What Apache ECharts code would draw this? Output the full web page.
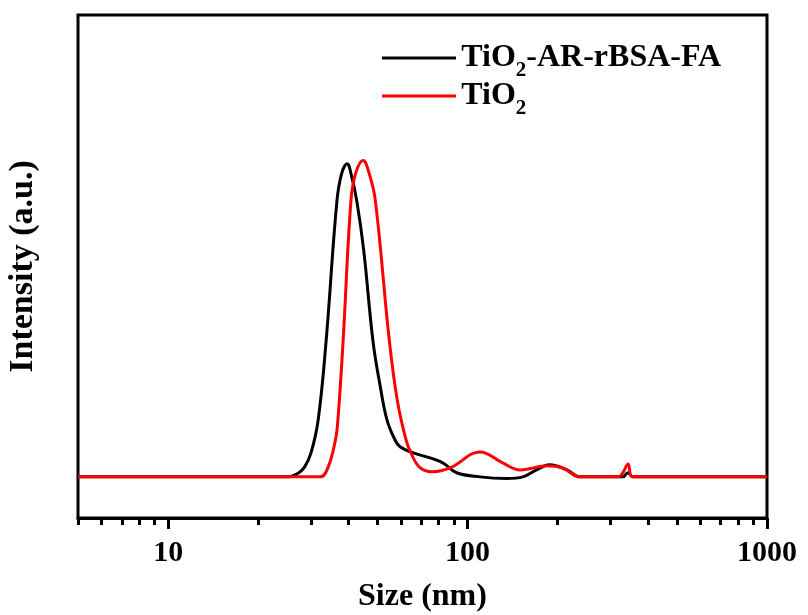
<!DOCTYPE html>
<html>
<head>
<meta charset="utf-8">
<script src="https://cdn.jsdelivr.net/npm/echarts@6/dist/echarts.min.js"></script>
<style>
  html, body { margin: 0; padding: 0; background: #fff; }
  #chart { width: 808px; height: 615px; }
</style>
</head>
<body>
<div id="chart"></div>
<script>
// DLS size distribution (size in nm, intensity normalised to red peak)
let sizeBlack = [5, 20, 25, 27, 28.5, 30, 31.7, 33.7, 36.6, 38, 39.6, 41, 42.7, 45, 48.3, 51, 53.8, 57, 59.5, 65.8, 75, 82.8, 92, 110, 135, 153, 170, 188, 215, 237, 330, 343, 357, 1000];
let valBlack = [0, 0, 0, 0.01, 0.03, 0.076, 0.18, 0.43, 0.87, 0.96, 0.99, 0.95, 0.87, 0.716, 0.43, 0.29, 0.18, 0.12, 0.095, 0.076, 0.06, 0.044, 0.013, 0, -0.005, 0, 0.022, 0.038, 0.022, 0, 0, 0.013, 0, 0];

let sizeRed = [5, 25, 32.2, 34.2, 36.2, 36.9, 38.4, 40.8, 42.3, 44.8, 46.9, 49.2, 54.8, 58.3, 62.3, 64.7, 69.2, 76.3, 88, 110, 131, 150, 184, 208, 237, 318, 330, 343.6, 357, 1000];
let valRed = [0, 0, 0, 0.03, 0.117, 0.18, 0.43, 0.874, 0.96, 1.0, 0.96, 0.874, 0.43, 0.24, 0.117, 0.076, 0.03, 0.016, 0.03, 0.079, 0.044, 0.022, 0.035, 0.028, 0, 0, 0.013, 0.041, 0, 0];

let majorTicks = [10, 100, 1000];
let minorTicks = [5, 6, 7, 8, 9, 20, 30, 40, 50, 60, 70, 80, 90, 200, 300, 400, 500, 600, 700, 800, 900];

let seriesNames = ["TiO2-AR-rBSA-FA", "TiO2"];

let font = "'Liberation Serif', 'Times New Roman', serif";

function pairs(xs, ys) {
  let out = [];
  for (let i = 0; i < xs.length; i++) out.push([xs[i], ys[i]]);
  return out;
}

let myChart = echarts.init(document.getElementById("chart"));
let option = {
  animation: false,
  textStyle: { fontFamily: font },
  grid: {
    left: 78,
    right: 41,
    top: 15,
    bottom: 97,
    outerBoundsMode: "none",
    show: true,
    borderColor: "#000",
    borderWidth: 3
  },
  legend: {
    orient: "vertical",
    left: 377,
    top: 37,
    itemWidth: 74,
    itemHeight: 3,
    itemGap: -1,
    icon: "rect",
    data: seriesNames,
    formatter: function(name) {
      let rest = name.slice(4);
      // h token only sets the line height, s is the subscript
      return "{h| }{b|TiO}{s|2}" + (rest ? "{b|" + rest + "}" : "");
    },
    textStyle: {
      rich: {
        h: { fontSize: 1, lineHeight: 46 },
        b: {
          fontFamily: font,
          fontWeight: "bold",
          fontSize: 32,
          lineHeight: 38,
          verticalAlign: "middle",
          color: "#000"
        },
        s: {
          fontFamily: font,
          fontWeight: "bold",
          fontSize: 21,
          lineHeight: 20,
          verticalAlign: "bottom",
          color: "#000"
        }
      }
    }
  },
  xAxis: [
    {
      type: "log",
      logBase: 10,
      min: 5,
      max: 1000,
      name: "Size (nm)",
      nameLocation: "middle",
      nameGap: 63,
      nameTextStyle: { fontFamily: font, fontWeight: "bold", fontSize: 32, color: "#000" },
      axisLine: { show: true, onZero: false, lineStyle: { color: "#000", width: 3 } },
      axisTick: { show: true, length: 11, lineStyle: { color: "#000", width: 3 }, customValues: majorTicks },
      axisLabel: {
        margin: 20,
        customValues: majorTicks,
        formatter: function(v) {
          return String(Math.round(v));
        },
        fontFamily: font,
        fontWeight: "bold",
        fontSize: 30,
        color: "#000"
      },
      splitLine: { show: false }
    },
    {
      // minor ticks only
      type: "log",
      logBase: 10,
      min: 5,
      max: 1000,
      position: "bottom",
      axisLine: { show: false, onZero: false },
      axisTick: { show: true, length: 7, lineStyle: { color: "#000", width: 3 }, customValues: minorTicks },
      axisLabel: { show: false },
      splitLine: { show: false }
    }
  ],
  yAxis: {
    type: "value",
    min: -0.13,
    max: 1.46,
    name: "Intensity (a.u.)",
    nameLocation: "middle",
    nameGap: 38,
    nameRotate: 90,
    nameTextStyle: { fontFamily: font, fontWeight: "bold", fontSize: 34, color: "#000" },
    axisLine: { show: false, onZero: false },
    axisTick: { show: false },
    axisLabel: { show: false },
    splitLine: { show: false }
  },
  series: [
    {
      name: seriesNames[0],
      type: "line",
      data: pairs(sizeBlack, valBlack),
      smooth: 0.4,
      symbol: "none",
      color: "#000",
      lineStyle: { width: 3, color: "#000" }
    },
    {
      name: seriesNames[1],
      type: "line",
      data: pairs(sizeRed, valRed),
      smooth: 0.4,
      symbol: "none",
      color: "#ff0000",
      lineStyle: { width: 3, color: "#ff0000" }
    }
  ]
};
myChart.setOption(option);
</script>
</body>
</html>
